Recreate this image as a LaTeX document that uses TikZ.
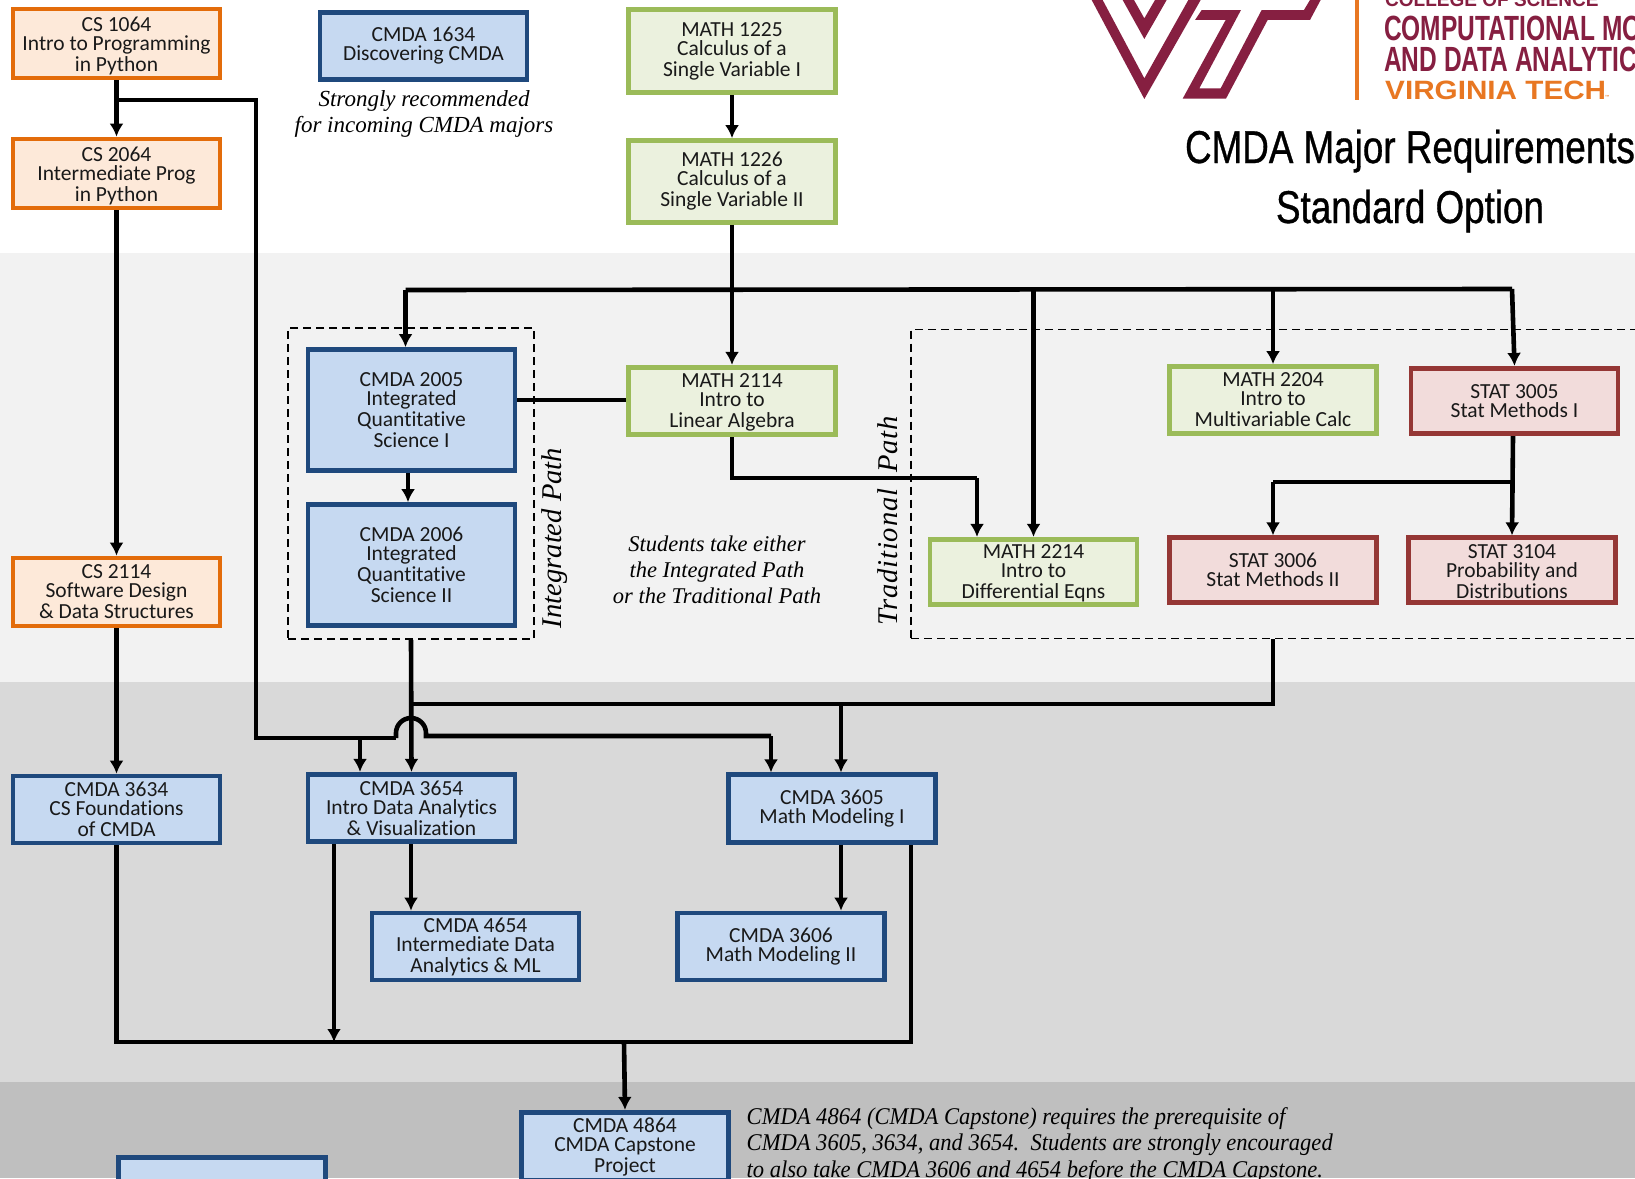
\documentclass[tikz,border=0pt]{standalone}
\usepackage{fontspec}
\usetikzlibrary{arrows.meta}
\setmainfont{Carlito}[Ligatures=CommonOff]
\newfontfamily\notefamily{Liberation Serif}
\newfontfamily\capfamily[FakeStretch=0.94]{Liberation Serif}
\newfontfamily\titlefamily[FakeStretch=0.80,FakeBold=0.7]{Liberation Sans}
\newfontfamily\logofamily[FakeStretch=0.70]{Liberation Sans}
\newfontfamily\collegefamily[FakeStretch=0.95]{Liberation Sans}
\newfontfamily\tagfamily[FakeStretch=1.12]{Liberation Sans}
\newfontfamily\spacedfamily[LetterSpace=3]{Liberation Serif}
\def\boxfont{\fontsize{21.5}{21}\selectfont}
\def\notefont{\notefamily\itshape\fontsize{23}{26}\selectfont}
\def\br{\\[-2pt]}
\def\up#1{\rule{0pt}{#1pt}}
\definecolor{vtmaroon}{HTML}{861F41}
\definecolor{vtorange}{HTML}{E87722}

\tikzset{
  course/.style={draw, line width=4.7pt, minimum width=207pt, inner sep=0pt, align=center, font=\boxfont, text=black!90},
  csbox/.style={course, draw={rgb,255:red,227;green,108;blue,10}, fill={rgb,255:red,253;green,233;blue,217}},
  cmdabox/.style={course, draw={rgb,255:red,31;green,73;blue,125}, fill={rgb,255:red,198;green,217;blue,241}},
  mathbox/.style={course, draw={rgb,255:red,155;green,187;blue,89}, fill={rgb,255:red,235;green,241;blue,222}},
  statbox/.style={course, draw={rgb,255:red,149;green,55;blue,53}, fill={rgb,255:red,242;green,220;blue,219}},
  pathbox/.style={draw, line width=1.5pt, dash pattern=on 8pt off 5pt, inner sep=0pt},
  flow/.style={line width=4.6pt},
  flowto/.style={flow, -{Latex[length=13pt,width=14pt]}},
  note/.style={font=\notefont, align=center, inner sep=0pt},
}

\begin{document}
\begin{tikzpicture}[x=1pt,y=-1pt]

\path[use as bounding box, clip] (0,0) rectangle (1635,1178);

% bands
\fill[white] (0,0) rectangle (1635,253);
\fill[black!5] (0,253) rectangle (1635,682);
\fill[black!15] (0,682) rectangle (1635,1082);
\fill[black!25] (0,1082) rectangle (1635,1178);

% logo
\begin{scope}[shift={(1080,0)},x=0.3333pt,y=-0.3333pt]
\fill[vtmaroon] (35,0) -- (193,297) -- (362,0) -- (325,0) -- (193,235) -- (68,0) -- cycle;
\fill[vtmaroon] (128,0) -- (193,117) -- (260,0) -- (225,0) -- (193,55) -- (162,0) -- cycle;
\fill[vtmaroon] (345,60) -- (365,30) -- (483,30) -- (358,265) -- (422,265) -- (545,30) -- (672,30) -- (690,0) -- (722,0) -- (690,60) -- (563,60) -- (438,296) -- (308,296) -- (437,60) -- cycle;
\end{scope}
\fill[vtorange] (1355,0) rectangle (1359,100);
\node[anchor=base west, inner sep=0pt, text=vtmaroon, font=\collegefamily\bfseries\fontsize{20}{20}\selectfont] (college) at (1385,6) {COLLEGE OF SCIENCE};
\node[anchor=base west, inner sep=0pt, text=vtmaroon, font=\logofamily\bfseries\fontsize{35}{35}\selectfont] (compmod) at (1384,40) {COMPUTATIONAL MO};
\node[anchor=base west, inner sep=0pt, text=vtmaroon, font=\logofamily\bfseries\fontsize{35}{35}\selectfont] (anddata) at (1384,71) {AND DATA ANALYTIC};
\node[anchor=base west, inner sep=0pt, text=vtorange, font=\tagfamily\bfseries\fontsize{26.5}{26.5}\selectfont] (vtech) at (1385,99) {VIRGINIA TECH};
\node[anchor=base west, inner sep=0pt, text=vtorange, font=\fontsize{6}{6}\selectfont] (vtmark) at (1605,99) {™};

% title
\node[anchor=base, inner sep=0pt, font=\titlefamily\fontsize{46}{46}\selectfont] (titlea) at (1410,163) {CMDA Major Requirements};
\node[anchor=base, inner sep=0pt, font=\titlefamily\fontsize{46}{46}\selectfont] (titleb) at (1410,223) {Standard Option};

% path boxes
\node[pathbox, minimum width=246pt, minimum height=311pt] (integrated) at (411,483.5) {};
\node[pathbox, minimum width=729pt, minimum height=309pt] (traditional) at (1275.5,484) {};

% courses
\node[csbox, minimum height=69pt] (cs1064) at (116.5,43.5) {\up{19}CS 1064\br Intro to Programming\\in Python};
\node[csbox, minimum height=69pt] (cs2064) at (116.5,173.5) {\up{19}CS 2064\br Intermediate Prog\\in Python};
\node[csbox, minimum height=68pt] (cs2114) at (116.5,592) {CS 2114\br Software Design\\\& Data Structures};

\node[cmdabox, minimum height=67.5pt] (cmda1634) at (423.5,46) {CMDA 1634\br Discovering CMDA};
\node[cmdabox, minimum height=121pt] (cmda2005) at (411.5,410) {CMDA 2005\br Integrated\\Quantitative\\Science I};
\node[cmdabox, minimum height=121pt] (cmda2006) at (411.5,565) {CMDA 2006\br Integrated\\Quantitative\\Science II};
\node[cmdabox, minimum height=67pt] (cmda3634) at (116.5,809.5) {CMDA 3634\br CS Foundations\\of CMDA};
\node[cmdabox, minimum height=67.5pt] (cmda3654) at (411.5,808) {CMDA 3654\br Intro Data Analytics\\\& Visualization};
\node[cmdabox, minimum height=67.5pt] (cmda3605) at (832,808.5) {CMDA 3605\br Math Modeling I};
\node[cmdabox, minimum height=67pt] (cmda4654) at (475.5,946.5) {\up{16}CMDA 4654\br Intermediate Data\\Analytics \& ML};
\node[cmdabox, minimum height=67pt] (cmda3606) at (781,946.5) {CMDA 3606\br Math Modeling II};
\node[cmdabox, minimum height=68.5pt] (cmda4864) at (625,1146.5) {\up{16}CMDA 4864\br CMDA Capstone\\Project};
\node[cmdabox, minimum height=68.5pt] (lastbox) at (222,1191.5) {};

\node[mathbox, minimum height=83.5pt] (math1225) at (732,51) {MATH 1225\br Calculus of a\\Single Variable I};
\node[mathbox, minimum height=82pt] (math1226) at (732,181.5) {MATH 1226\br Calculus of a\\Single Variable II};
\node[mathbox, minimum height=67.5pt] (math2114) at (732,401) {\up{17}MATH 2114\br Intro to\\Linear Algebra};
\node[mathbox, minimum height=67pt] (math2204) at (1273,400) {MATH 2204\br Intro to\\Multivariable Calc};
\node[mathbox, minimum height=65.5pt] (math2214) at (1033.5,572) {\up{17}MATH 2214\br Intro to\\Differential Eqns};

\node[statbox, minimum height=65.5pt] (stat3005) at (1514.5,401) {STAT 3005\br Stat Methods I};
\node[statbox, minimum height=65pt] (stat3006) at (1273,570.25) {STAT 3006\br Stat Methods II};
\node[statbox, minimum height=65pt] (stat3104) at (1512,570.25) {\up{16}STAT 3104\br Probability and\\Distributions};

% notes
\node[note] (recommend) at (424,114) {Strongly recommended\\for incoming CMDA majors};
\node[note, font=\notefamily\itshape\fontsize{22.5}{26}\selectfont] (either) at (717,570) {Students take either\\the Integrated Path\\or the Traditional Path};
\node[note, rotate=90, font=\notefamily\itshape\fontsize{28.6}{28}\selectfont] (intlabel) at (555,538) {Integrated Path};
\node[note, rotate=90, font=\spacedfamily\itshape\fontsize{28.6}{28}\selectfont] (tradlabel) at (888,521) {Traditional\ \ Path};
\node[note, align=left, anchor=west, font=\capfamily\itshape\fontsize{24}{26.5}\selectfont] (capnote) at (746.5,1145) {CMDA 4864 (CMDA Capstone) requires the prerequisite of\\CMDA 3605, 3634, and 3654.\ \ Students are strongly encouraged\\to also take CMDA 3606 and 4654 before the CMDA Capstone.};

% junctions
\coordinate (csfork) at (116.5,100);
\coordinate (cscorner) at (256,100);
\coordinate (csleft) at (256,738);
\coordinate (hopin) at (396,738);
\coordinate (hopout) at (426,736);
\coordinate (toright) at (771,736);
\coordinate (analytic) at (360,738);
\coordinate (busleft) at (405.5,290);
\coordinate (busmid) at (732,290);
\coordinate (busright) at (1512,289);
\coordinate (linkrow) at (0,400);
\coordinate (iqsfork) at (408,0);
\coordinate (lowfork) at (411,704);
\coordinate (lowright) at (1273,704);
\coordinate (modelfork) at (841,704);
\coordinate (sumleft) at (116.5,1042);
\coordinate (sumright) at (911,1042);
\coordinate (summid) at (624,1042);
\coordinate (sumdrop) at (334,1042);
\coordinate (statfork) at (1273,482);
\coordinate (statmid) at (1513,482);
\coordinate (algfork) at (732,478);
\coordinate (algright) at (977,478);

% left column
\draw[flowto] (cs1064.south) -- (cs2064.north);
\draw[flowto] (cs2064.south) -- (cs2114.north);
\draw[flowto] (cs2114.south) -- (cmda3634.north);
\draw[flow] (csfork) -- (cscorner) -- (csleft) -- (hopin);
\draw[flow] (hopin) -- ++(0,-5) arc (180:360:15) -- (hopout) -- (toright);
\draw[flowto] (toright) -- (toright |- cmda3605.north);
\draw[flowto] (analytic) -- (analytic |- cmda3654.north);

% math column and bus
\draw[flowto] (math1225.south) -- (math1226.north);
\draw[flowto] (math1226.south) -- (math2114.north);
\draw[flow] (busleft) -- (busright);
\draw[flowto] (busleft) -- (busleft |- cmda2005.north);
\draw[flowto] (math2214.north |- busmid) -- (math2214.north);
\draw[flowto] (math2204.north |- busmid) -- (math2204.north);
\draw[flowto] (busright) -- (stat3005.north);

% integrated path
\draw[flow] (cmda2005.east |- linkrow) -- (math2114.west |- linkrow);
\draw[flowto] (cmda2005.south -| iqsfork) -- (cmda2006.north -| iqsfork);

% traditional path
\draw[flow] (math2114.south) -- (algfork) -- (algright);
\draw[flowto] (algright) -- (algright |- math2214.north);
\draw[flowto] (statmid |- stat3005.south) -- (stat3104.north);
\draw[flow] (statmid) -- (statfork);
\draw[flowto] (statfork) -- (stat3006.north);

% into the 3000 level
\draw[flowto] (integrated.south) -- (cmda3654.north);
\draw[flow] (lowfork) -- (lowright) -- (lowright |- traditional.south);
\draw[flowto] (modelfork) -- (modelfork |- cmda3605.north);
\draw[flowto] (cmda3654.south -| lowfork) -- (lowfork |- cmda4654.north);
\draw[flowto] (modelfork |- cmda3605.south) -- (modelfork |- cmda3606.north);

% into the capstone
\draw[flow] (cmda3634.south) -- (sumleft) -- (sumright) -- (sumright |- cmda3605.south);
\draw[flowto] (sumdrop |- cmda3654.south) -- (sumdrop);
\draw[flowto] (summid) -- (cmda4864.north);

\end{tikzpicture}
\end{document}
